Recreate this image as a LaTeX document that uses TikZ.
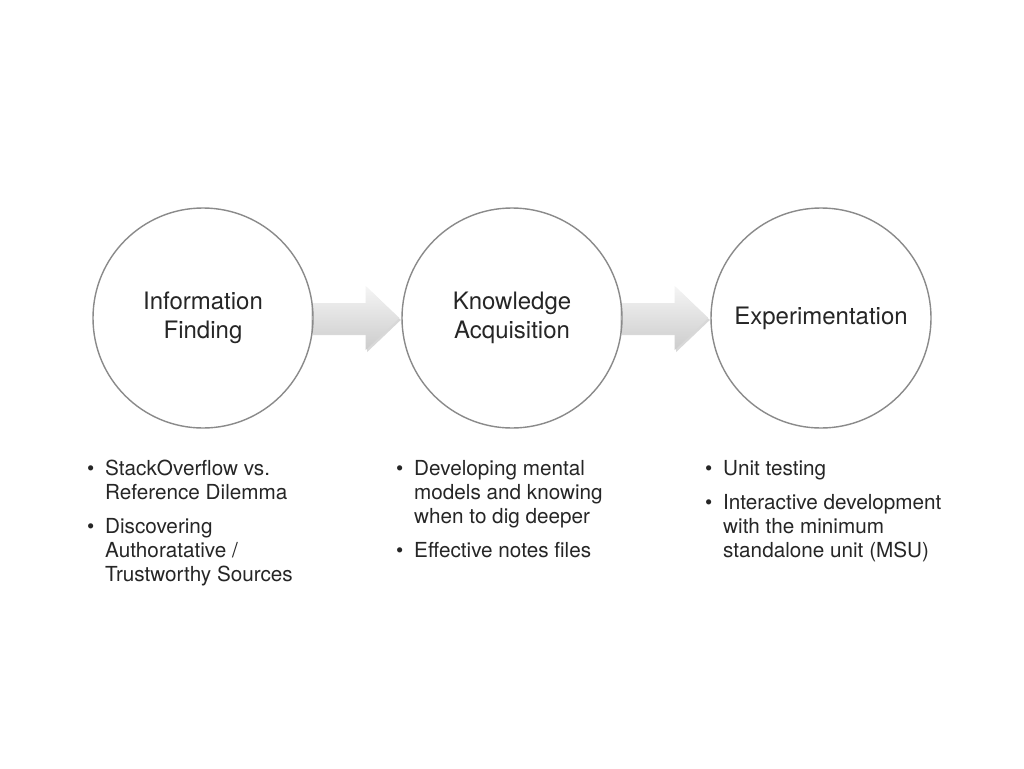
\documentclass[tikz,border=0pt]{standalone}
\usepackage{fontspec}
\setmainfont{TeX Gyre Heros}
\usetikzlibrary{calc,shadows,backgrounds}

\definecolor{inkgray}{HTML}{262626}
\definecolor{ringgray}{HTML}{8A8A8A}

% a block of left-aligned lines whose baseline is that of its first line
\newcommand{\noteblock}[1]{\begin{tabular}[t]{@{}l@{}}#1\end{tabular}}

\tikzset{
  stage/.style={circle, draw=ringgray, line width=1.4pt, minimum size=220pt,
    inner sep=0pt, align=center, text=inkgray,
    font=\fontsize{24}{28.5}\selectfont},
  flowarrow/.style={top color=white!96!black, bottom color=black!20,
    draw=none,
    drop shadow={shadow xshift=1.5pt, shadow yshift=-2pt, opacity=0.25,
      fill=black!60}},
  bulletmark/.style={anchor=base west, inner sep=0pt, text=inkgray,
    font=\fontsize{20.7}{24}\selectfont},
  itemtext/.style={anchor=base west, inner sep=0pt, text=inkgray,
    font=\fontsize{20.7}{24}\selectfont},
}

\begin{document}
\begin{tikzpicture}[x=1pt,y=-1pt]
  \useasboundingbox (0,0) rectangle (1024,768);

  % the three stages
  \node[stage] (find) at (203,318) {Information\\Finding};
  \node[stage] (know) at (512,318) {Knowledge\\Acquisition};
  \node[stage] (expe) at (821,318) {Experimentation};

  % block arrows between the stages, kept behind the rings
  \begin{scope}[on background layer]
    \fill[white] (0,0) rectangle (1024,768);
    \path[flowarrow]
      ($(find.east)+(-2,-15)$) -- ($(find.east)+(52,-15)$)
      -- ($(find.east)+(52,-32)$) -- ($(know.west)+(-2,0)$)
      -- ($(find.east)+(52,32)$) -- ($(find.east)+(52,15)$)
      -- ($(find.east)+(-2,15)$) -- cycle;
    \path[flowarrow]
      ($(know.east)+(-2,-15)$) -- ($(know.east)+(52,-15)$)
      -- ($(know.east)+(52,-32)$) -- ($(expe.west)+(-2,0)$)
      -- ($(know.east)+(52,32)$) -- ($(know.east)+(52,15)$)
      -- ($(know.east)+(-2,15)$) -- cycle;
  \end{scope}

  % notes under Information Finding
  \node[bulletmark] (fb1) at (87,475) {\textbullet};
  \node[itemtext] (ft1) at (105,475) {\noteblock{StackOverflow vs.\\Reference Dilemma}};
  \node[bulletmark] (fb2) at (87,533) {\textbullet};
  \node[itemtext] (ft2) at (105,533) {\noteblock{Discovering\\Authoratative /\\Trustworthy Sources}};

  % notes under Knowledge Acquisition
  \node[bulletmark] (kb1) at (396,475) {\textbullet};
  \node[itemtext] (kt1) at (414,475) {\noteblock{Developing mental\\models and knowing\\when to dig deeper}};
  \node[bulletmark] (kb2) at (396,557) {\textbullet};
  \node[itemtext] (kt2) at (414,557) {\noteblock{Effective notes files}};

  % notes under Experimentation
  \node[bulletmark] (eb1) at (705,475) {\textbullet};
  \node[itemtext] (et1) at (723,475) {\noteblock{Unit testing}};
  \node[bulletmark] (eb2) at (705,509) {\textbullet};
  \node[itemtext] (et2) at (723,509) {\noteblock{Interactive development\\with the minimum\\standalone unit (MSU)}};
\end{tikzpicture}
\end{document}
